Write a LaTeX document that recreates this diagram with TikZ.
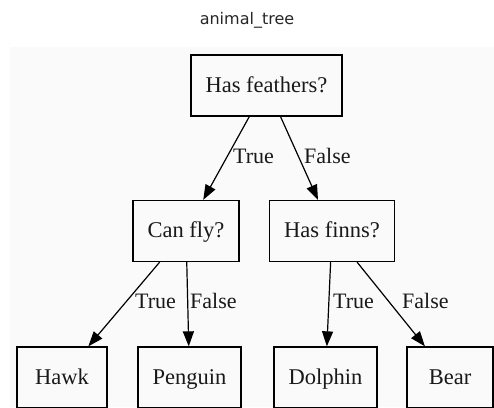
\documentclass[tikz,border=0pt]{standalone}
\usepackage{fontspec}
\setmainfont{Liberation Serif}
\newfontfamily\titlefont{DejaVu Sans}
\usetikzlibrary{arrows.meta}
\begin{document}
\begin{tikzpicture}[x=1pt,y=-1pt,
  box/.style={draw=black, line width=1.3pt, minimum height=61pt, inner sep=0pt, text height=16pt, text depth=3pt, font=\fontsize{22.5}{25}\selectfont, text=black!90},
  lbl/.style={font=\fontsize{22}{24}\selectfont, inner sep=0pt, anchor=west, text height=15pt, text depth=4pt, text=black!90},
  arr/.style={draw=black, line width=1.2pt, -{Triangle[length=15pt,width=11pt]}}]
\useasboundingbox (0,0) rectangle (494,407);
\fill[black!2] (10,47) rectangle (494,407);
\node[font=\titlefont\fontsize{16}{18}\selectfont, text=black!85] (title) at (247,20) {animal\_tree};
\node[box, minimum width=151pt] (hf) at (266.5,85.5) {Has feathers?};
\node[box, minimum width=106pt] (cf) at (186,231) {Can fly?};
\node[box, minimum width=125pt] (hn) at (332,231) {Has finns?};
\node[box, minimum width=90pt] (hawk) at (62,377.5) {Hawk};
\node[box, minimum width=103pt] (peng) at (189.5,377.5) {Penguin};
\node[box, minimum width=103pt] (dol) at (325.5,377.5) {Dolphin};
\node[box, minimum width=86pt] (bear) at (450,377.5) {Bear};
\draw[arr] (hf) -- (cf);
\draw[arr] (hf) -- (hn);
\draw[arr] (cf) -- (hawk);
\draw[arr] (cf) -- (peng);
\draw[arr] (hn) -- (dol);
\draw[arr] (hn) -- (bear);
\node[lbl] (l1) at (233,158) {True};
\node[lbl] (l2) at (304,158) {False};
\node[lbl] (l3) at (135,303) {True};
\node[lbl] (l4) at (190,303) {False};
\node[lbl] (l5) at (333,303) {True};
\node[lbl] (l6) at (402,303) {False};
\end{tikzpicture}
\end{document}
